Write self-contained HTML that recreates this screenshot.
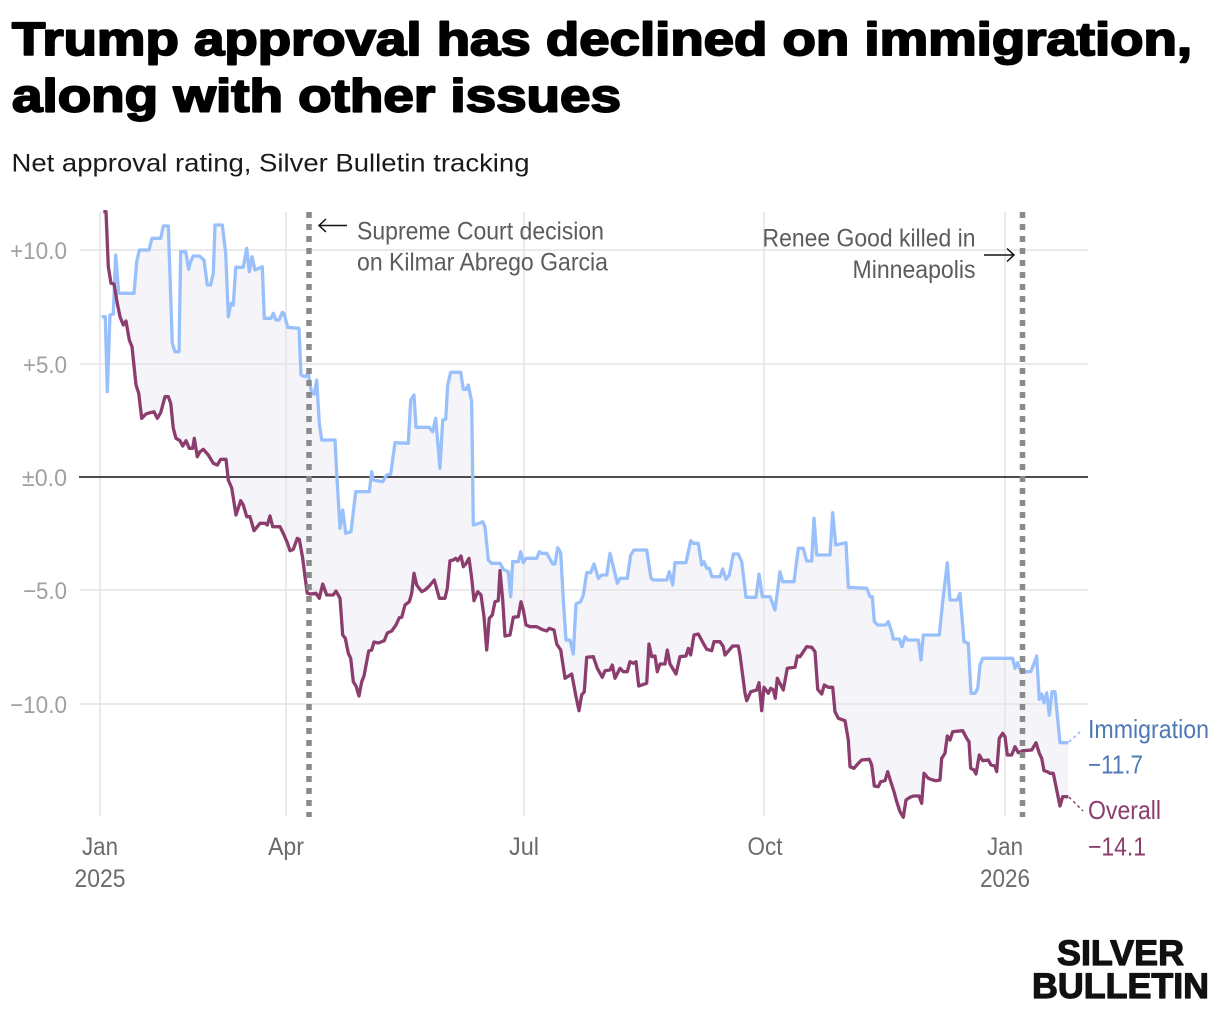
<!DOCTYPE html>
<html>
<head>
<meta charset="utf-8">
<style>
  html,body{margin:0;padding:0;background:#fff;}
  svg{display:block;}
  .nar{font-family:"Liberation Sans Narrow","Liberation Sans",sans-serif;}
  .reg{font-family:"Liberation Sans",sans-serif;}
</style>
</head>
<body>
<svg width="1220" height="1012" viewBox="0 0 1220 1012" xmlns="http://www.w3.org/2000/svg">
  <rect x="0" y="0" width="1220" height="1012" fill="#ffffff"/>

  <!-- Title -->
  <text class="reg" x="12" y="55" font-size="46" font-weight="bold" fill="#000" stroke="#000" stroke-width="1.9" stroke-linejoin="round" textLength="1180" lengthAdjust="spacingAndGlyphs">Trump approval has declined on immigration,</text>
  <text class="reg" x="12" y="111.5" font-size="46" font-weight="bold" fill="#000" stroke="#000" stroke-width="1.9" stroke-linejoin="round" textLength="609" lengthAdjust="spacingAndGlyphs">along with other issues</text>
  <text class="reg" x="11.5" y="171.5" font-size="25" fill="#1a1a1a" textLength="518" lengthAdjust="spacingAndGlyphs">Net approval rating, Silver Bulletin tracking</text>

  <!-- Fill between lines -->
  <polygon fill="#f4f4f9" points="101.7,830 101.7,316.7 105.3,316.7 107.3,391.7 110,315 113.3,314 115.7,255 118.7,293.3 134,293.3 136.7,261.7 139.3,250 149,250 152,238.3 160.7,238.3 163.3,226 168.3,226 172.3,343.3 175,351.7 179,351.7 180.7,251.7 185.7,251.7 188.7,269.3 190,263.3 193.3,256 199.3,256 204,260 207.3,285 210.7,285 213.3,273.3 215,225 222.3,225 225.7,253.3 228.3,316.7 231,303.3 233.3,305 235.7,267.3 243.3,267.3 246.7,248.3 249.3,271.7 252,256.7 255,270 262.3,266.7 264.3,318.3 271,318.3 273.3,313.3 276,320 279,320 282.3,312.3 284,313.3 287.7,327.3 299,328.3 301,375 305,376.7 308.3,373.3 311.7,394 314.3,394 316.7,380 319.3,423.3 321.7,440 335,440 336.7,473.3 340,528.3 342.7,510 345.7,533.3 351,531.7 355.7,491.7 369.3,491.7 371.7,471.7 373.3,480 382.7,481.7 386.7,475 390.7,474 395,442.7 408.3,443.3 410.7,400 414,395 416,427.3 429.3,427.3 432.7,431.7 435.7,418.3 440,468.3 442.7,420 445.7,419.3 447.7,385 450.7,372.3 460.7,372.3 463.3,389.3 466,389.3 468.3,385 471.7,401.7 473.3,525 479.3,523.3 482.7,521.7 485,526.7 488.3,560 491.7,563.3 500,563.3 503.3,569.3 508.3,571.7 510.7,596.7 512.7,561.7 518.3,561.7 520.7,551.7 523.3,562.7 526,558.3 536.7,558.3 539.3,551.7 541.7,553.3 546.7,553.3 552.7,564 555,564 557.7,547.7 560.7,552.7 563.3,600 566,640 570,640 573.3,654 576,604 580.7,601.7 583.3,595 586.7,572.7 590.7,572.7 594,564 598.3,578.3 601.7,575 606.7,575 610,553.3 613.3,566.7 617.3,583.3 620,578.3 627.3,578.3 630.7,555 634,550 646.7,550 651,578.3 653.3,580 666.7,580 669.3,571.7 672.7,585 675,562.7 686,562.7 690.7,540.7 693.3,543.3 698.3,543.3 701.7,565 704,561.7 706.7,568.3 709.3,568.3 712,576.7 720,576.7 722.7,569 726,579.3 729.3,575 733.3,554 738.3,554 741.7,561.7 746,597.3 756,597.3 759,574 762.3,596.7 770,596.7 775,610 780,571.7 782.7,581.7 794,581.7 798.3,548.3 803.3,548.3 806.7,561 811.7,561 814,518.3 816.7,555 830,555 832.7,512.7 835.7,545 846,542.7 848.3,587.3 866.7,588.3 870,596.7 872.3,596.7 874.3,621.7 877.7,625 885.7,625 888.3,621.7 891.7,631.7 893.3,639 899.3,639 902,646.7 905,636.7 907.7,640 918.3,640 921,660 923.3,635 939.3,635 942.7,601.7 947.3,562.7 950,600 957.3,600 960,593.3 964,641.7 968.3,643.3 971,693.3 975,693.3 977.7,688.3 980,665 982.7,658.3 1012.7,658.3 1015,668.3 1017.7,662.7 1021,671.7 1030.7,671.7 1034.3,662.7 1036.7,656 1039.3,699.3 1041.7,694 1044,702.7 1046.7,692.7 1049.3,715 1052,691.7 1055,691.7 1060,742.7 1068.3,742.7 1068.3,830"/>
  <polygon fill="#ffffff" points="100.5,830 100.5,211.7 106,211.7 108.3,266.7 111,283.3 114,284 117.3,303.3 120,316.7 123.3,325 126,321 129.3,340 132,346.7 136,385 138.7,393.3 141.7,418.3 146,414 150,412.7 154,411.7 157.3,418.3 160.7,412.7 165,396.7 168.3,396.7 170.7,403.3 173.3,428.3 176,438.3 180,440.7 182.7,446 186,440.7 189.3,448.3 192.7,448.3 194.3,438.3 197.3,456.7 200,451.7 203.3,449.3 208.3,455 213.3,463.3 217.3,465 220.7,459.3 226,459.3 228.3,480 231.7,488 236,515 240.7,500.7 243.3,505 246.7,516.7 250,516.7 254,530.7 260,523.3 265,523.3 267.3,525 270,516 272.7,526.7 280,526.7 284,535 287.3,542.7 290,550.7 293.3,549.3 297.3,538.3 299.3,539.3 302.7,558.3 305,576.7 307.3,593.3 310.7,594 316,593.3 319.3,598.3 322.7,584 326.7,595 333.3,595 336,591 340,598.3 342.7,635 345.3,638.3 348.3,653.3 350.7,658.3 353.3,681.7 356,686 359,696 361.7,681.7 364,676 368.7,651 371.7,650 374,642 378.3,643 384.3,640.7 387.3,633 391.7,631 396,625 399.3,617.7 401.7,617.3 405,605 409.3,601.7 411.7,593.3 414,573.3 416.7,585 421.7,591.7 425,590 429.3,586 434.3,580 439.3,598.3 445,598.3 447.3,588.3 450,560.7 453.3,560 455.7,558.3 457.7,560.7 461,556 463.3,566.7 465.7,564 469,558.3 471.7,578.3 474,600.7 477.7,591.7 481,595 484,616.7 486.7,650 489.3,618.3 492.3,615 495,601.7 498.3,600.7 500,570.7 502.7,600 505,636 510,635 513.3,617.3 518.3,616.7 521,601.7 523.3,610 526,625 530,626.7 536.7,626.7 541.7,629.3 546.7,631 549.3,628.3 554,630 556.7,644 560.7,650 565,678.3 571.7,674 576,696.7 579,710.7 581.7,695 584.3,691.7 586.7,657.3 593.3,656.7 597.3,668.3 602.3,677.3 605,670.7 610,670 612.3,665 615,678.3 620,668.3 623.3,671.7 627.3,671.7 630,661.7 633.3,663.3 636,661.7 638.7,686 646.7,683.3 649,644 651.7,656.7 655,656 657.3,671.7 660,664 665,664 667.3,650 670,664 676,674 680,656.7 686,656 688.3,648.3 690.7,655 694,635 698.3,634 703.3,643.3 706.7,649.3 711.7,650.7 714,641.7 720,641.7 723.3,646.7 725,655 729.3,650 732.7,646 738.3,646 740,655 745,693.3 746.7,700.7 750.7,691.7 756.7,690 759,682.7 761.7,710.7 764,687.3 768.3,693.3 770.7,688.3 773.3,690 775.3,698.3 777.3,678.3 783.3,690 787.3,668.3 795,667.3 797.3,656 800,656.7 803.3,651.7 806.7,646.7 811.7,647.3 815,651.7 817.7,689.3 821.7,694 824.3,685 828.3,687.3 832.7,687.3 835,711.7 838.3,718.3 845,720.7 848.3,740 850,766.7 854,768.3 858.3,763.3 861.7,760 869.3,759.3 871.7,765 874.3,786 878.3,786.7 880.7,781.7 885,780.7 887.7,771.7 890,779.3 894,791.7 896.7,801.7 900,811.7 903.3,817.3 906,800 910,797.3 913.3,796 919,796 921.7,803.3 924,773.3 928.3,778.3 932.7,780 936,780.7 940,780 941.7,758.3 945,753.3 947.3,736 950,740 952.7,731.7 962.7,730.7 966.7,738.3 969,741.7 970.7,768.3 974,770 976,774 979.3,755 982.7,760.7 988.3,760 991,765 995,766 996.7,771.7 999.3,738.3 1002.7,733.3 1005,736.7 1007.3,755 1011.7,755 1015,746.7 1018.3,752.7 1022.7,750.7 1031.7,750 1036,742.7 1039.3,753.3 1041.7,758.3 1044,770.7 1047.3,771.7 1050,773.3 1053.3,773.3 1056.7,790 1060,806 1062.7,796.7 1068.3,796.7 1069.5,830"/>
  <rect x="0" y="817" width="1220" height="20" fill="#ffffff"/>

  <!-- Gridlines -->
  <g stroke="#e4e4e4" stroke-width="1.6" fill="none">
    <line x1="80" y1="250" x2="1088" y2="250"/>
    <line x1="80" y1="364" x2="1088" y2="364"/>
    <line x1="80" y1="590" x2="1088" y2="590"/>
    <line x1="80" y1="704" x2="1088" y2="704"/>
    <line x1="100" y1="212" x2="100" y2="816"/>
    <line x1="286" y1="212" x2="286" y2="816"/>
    <line x1="524" y1="212" x2="524" y2="816"/>
    <line x1="764" y1="212" x2="764" y2="816"/>
    <line x1="1005" y1="212" x2="1005" y2="816"/>
  </g>
  <line x1="79" y1="477" x2="1088" y2="477" stroke="#111" stroke-width="1.6"/>

  <!-- Y labels -->
  <g class="nar" font-size="24" fill="#a0a0a0" text-anchor="end">
    <text x="67" y="259" textLength="57" lengthAdjust="spacingAndGlyphs">+10.0</text>
    <text x="67" y="373" textLength="44" lengthAdjust="spacingAndGlyphs">+5.0</text>
    <text x="67" y="486" textLength="45" lengthAdjust="spacingAndGlyphs">±0.0</text>
    <text x="67" y="599" textLength="44" lengthAdjust="spacingAndGlyphs">−5.0</text>
    <text x="67" y="713" textLength="57" lengthAdjust="spacingAndGlyphs">−10.0</text>
  </g>

  <!-- X labels -->
  <g class="nar" font-size="25" fill="#6b6b6b" text-anchor="middle">
    <text x="100" y="855" textLength="36" lengthAdjust="spacingAndGlyphs">Jan</text>
    <text x="100" y="887" textLength="51" lengthAdjust="spacingAndGlyphs">2025</text>
    <text x="286" y="855" textLength="36" lengthAdjust="spacingAndGlyphs">Apr</text>
    <text x="524" y="855" textLength="30" lengthAdjust="spacingAndGlyphs">Jul</text>
    <text x="765" y="855" textLength="35" lengthAdjust="spacingAndGlyphs">Oct</text>
    <text x="1005" y="855" textLength="36" lengthAdjust="spacingAndGlyphs">Jan</text>
    <text x="1005" y="887" textLength="50" lengthAdjust="spacingAndGlyphs">2026</text>
  </g>

  <!-- Series lines -->
  <polyline fill="none" stroke="#99c0fb" stroke-width="3.3" stroke-linejoin="round" points="101.7,316.7 105.3,316.7 107.3,391.7 110,315 113.3,314 115.7,255 118.7,293.3 134,293.3 136.7,261.7 139.3,250 149,250 152,238.3 160.7,238.3 163.3,226 168.3,226 172.3,343.3 175,351.7 179,351.7 180.7,251.7 185.7,251.7 188.7,269.3 190,263.3 193.3,256 199.3,256 204,260 207.3,285 210.7,285 213.3,273.3 215,225 222.3,225 225.7,253.3 228.3,316.7 231,303.3 233.3,305 235.7,267.3 243.3,267.3 246.7,248.3 249.3,271.7 252,256.7 255,270 262.3,266.7 264.3,318.3 271,318.3 273.3,313.3 276,320 279,320 282.3,312.3 284,313.3 287.7,327.3 299,328.3 301,375 305,376.7 308.3,373.3 311.7,394 314.3,394 316.7,380 319.3,423.3 321.7,440 335,440 336.7,473.3 340,528.3 342.7,510 345.7,533.3 351,531.7 355.7,491.7 369.3,491.7 371.7,471.7 373.3,480 382.7,481.7 386.7,475 390.7,474 395,442.7 408.3,443.3 410.7,400 414,395 416,427.3 429.3,427.3 432.7,431.7 435.7,418.3 440,468.3 442.7,420 445.7,419.3 447.7,385 450.7,372.3 460.7,372.3 463.3,389.3 466,389.3 468.3,385 471.7,401.7 473.3,525 479.3,523.3 482.7,521.7 485,526.7 488.3,560 491.7,563.3 500,563.3 503.3,569.3 508.3,571.7 510.7,596.7 512.7,561.7 518.3,561.7 520.7,551.7 523.3,562.7 526,558.3 536.7,558.3 539.3,551.7 541.7,553.3 546.7,553.3 552.7,564 555,564 557.7,547.7 560.7,552.7 563.3,600 566,640 570,640 573.3,654 576,604 580.7,601.7 583.3,595 586.7,572.7 590.7,572.7 594,564 598.3,578.3 601.7,575 606.7,575 610,553.3 613.3,566.7 617.3,583.3 620,578.3 627.3,578.3 630.7,555 634,550 646.7,550 651,578.3 653.3,580 666.7,580 669.3,571.7 672.7,585 675,562.7 686,562.7 690.7,540.7 693.3,543.3 698.3,543.3 701.7,565 704,561.7 706.7,568.3 709.3,568.3 712,576.7 720,576.7 722.7,569 726,579.3 729.3,575 733.3,554 738.3,554 741.7,561.7 746,597.3 756,597.3 759,574 762.3,596.7 770,596.7 775,610 780,571.7 782.7,581.7 794,581.7 798.3,548.3 803.3,548.3 806.7,561 811.7,561 814,518.3 816.7,555 830,555 832.7,512.7 835.7,545 846,542.7 848.3,587.3 866.7,588.3 870,596.7 872.3,596.7 874.3,621.7 877.7,625 885.7,625 888.3,621.7 891.7,631.7 893.3,639 899.3,639 902,646.7 905,636.7 907.7,640 918.3,640 921,660 923.3,635 939.3,635 942.7,601.7 947.3,562.7 950,600 957.3,600 960,593.3 964,641.7 968.3,643.3 971,693.3 975,693.3 977.7,688.3 980,665 982.7,658.3 1012.7,658.3 1015,668.3 1017.7,662.7 1021,671.7 1030.7,671.7 1034.3,662.7 1036.7,656 1039.3,699.3 1041.7,694 1044,702.7 1046.7,692.7 1049.3,715 1052,691.7 1055,691.7 1060,742.7 1068.3,742.7"/>
  <polyline fill="none" stroke="#8b3d6d" stroke-width="3.3" stroke-linejoin="round" points="103.3,211.7 106,211.7 108.3,266.7 111,283.3 114,284 117.3,303.3 120,316.7 123.3,325 126,321 129.3,340 132,346.7 136,385 138.7,393.3 141.7,418.3 146,414 150,412.7 154,411.7 157.3,418.3 160.7,412.7 165,396.7 168.3,396.7 170.7,403.3 173.3,428.3 176,438.3 180,440.7 182.7,446 186,440.7 189.3,448.3 192.7,448.3 194.3,438.3 197.3,456.7 200,451.7 203.3,449.3 208.3,455 213.3,463.3 217.3,465 220.7,459.3 226,459.3 228.3,480 231.7,488 236,515 240.7,500.7 243.3,505 246.7,516.7 250,516.7 254,530.7 260,523.3 265,523.3 267.3,525 270,516 272.7,526.7 280,526.7 284,535 287.3,542.7 290,550.7 293.3,549.3 297.3,538.3 299.3,539.3 302.7,558.3 305,576.7 307.3,593.3 310.7,594 316,593.3 319.3,598.3 322.7,584 326.7,595 333.3,595 336,591 340,598.3 342.7,635 345.3,638.3 348.3,653.3 350.7,658.3 353.3,681.7 356,686 359,696 361.7,681.7 364,676 368.7,651 371.7,650 374,642 378.3,643 384.3,640.7 387.3,633 391.7,631 396,625 399.3,617.7 401.7,617.3 405,605 409.3,601.7 411.7,593.3 414,573.3 416.7,585 421.7,591.7 425,590 429.3,586 434.3,580 439.3,598.3 445,598.3 447.3,588.3 450,560.7 453.3,560 455.7,558.3 457.7,560.7 461,556 463.3,566.7 465.7,564 469,558.3 471.7,578.3 474,600.7 477.7,591.7 481,595 484,616.7 486.7,650 489.3,618.3 492.3,615 495,601.7 498.3,600.7 500,570.7 502.7,600 505,636 510,635 513.3,617.3 518.3,616.7 521,601.7 523.3,610 526,625 530,626.7 536.7,626.7 541.7,629.3 546.7,631 549.3,628.3 554,630 556.7,644 560.7,650 565,678.3 571.7,674 576,696.7 579,710.7 581.7,695 584.3,691.7 586.7,657.3 593.3,656.7 597.3,668.3 602.3,677.3 605,670.7 610,670 612.3,665 615,678.3 620,668.3 623.3,671.7 627.3,671.7 630,661.7 633.3,663.3 636,661.7 638.7,686 646.7,683.3 649,644 651.7,656.7 655,656 657.3,671.7 660,664 665,664 667.3,650 670,664 676,674 680,656.7 686,656 688.3,648.3 690.7,655 694,635 698.3,634 703.3,643.3 706.7,649.3 711.7,650.7 714,641.7 720,641.7 723.3,646.7 725,655 729.3,650 732.7,646 738.3,646 740,655 745,693.3 746.7,700.7 750.7,691.7 756.7,690 759,682.7 761.7,710.7 764,687.3 768.3,693.3 770.7,688.3 773.3,690 775.3,698.3 777.3,678.3 783.3,690 787.3,668.3 795,667.3 797.3,656 800,656.7 803.3,651.7 806.7,646.7 811.7,647.3 815,651.7 817.7,689.3 821.7,694 824.3,685 828.3,687.3 832.7,687.3 835,711.7 838.3,718.3 845,720.7 848.3,740 850,766.7 854,768.3 858.3,763.3 861.7,760 869.3,759.3 871.7,765 874.3,786 878.3,786.7 880.7,781.7 885,780.7 887.7,771.7 890,779.3 894,791.7 896.7,801.7 900,811.7 903.3,817.3 906,800 910,797.3 913.3,796 919,796 921.7,803.3 924,773.3 928.3,778.3 932.7,780 936,780.7 940,780 941.7,758.3 945,753.3 947.3,736 950,740 952.7,731.7 962.7,730.7 966.7,738.3 969,741.7 970.7,768.3 974,770 976,774 979.3,755 982.7,760.7 988.3,760 991,765 995,766 996.7,771.7 999.3,738.3 1002.7,733.3 1005,736.7 1007.3,755 1011.7,755 1015,746.7 1018.3,752.7 1022.7,750.7 1031.7,750 1036,742.7 1039.3,753.3 1041.7,758.3 1044,770.7 1047.3,771.7 1050,773.3 1053.3,773.3 1056.7,790 1060,806 1062.7,796.7 1068.3,796.7"/>

  <!-- Connector dashes -->
  <line x1="1069" y1="742" x2="1082" y2="730" stroke="#99c0fb" stroke-width="1.8" stroke-dasharray="3 3"/>
  <line x1="1069" y1="797" x2="1083" y2="811" stroke="#8b3d6d" stroke-width="1.5" stroke-dasharray="3 3"/>

  <!-- Dotted event lines -->
  <line x1="309" y1="212" x2="309" y2="817" stroke="#8a8a8a" stroke-width="5.5" stroke-dasharray="6 6"/>
  <line x1="1022.5" y1="212" x2="1022.5" y2="817" stroke="#8a8a8a" stroke-width="5.5" stroke-dasharray="6 6"/>

  <!-- Annotations -->
  <g stroke="#111" stroke-width="1.5" fill="none">
    <line x1="319" y1="225.5" x2="347" y2="225.5"/>
    <polyline points="326,219 319,225.5 326,232"/>
    <line x1="984" y1="255" x2="1014" y2="255"/>
    <polyline points="1007,248.5 1014,255 1007,261.5"/>
  </g>
  <g class="nar" font-size="25" fill="#5c5c5c">
    <text x="357" y="239.5" textLength="247" lengthAdjust="spacingAndGlyphs">Supreme Court decision</text>
    <text x="357" y="270.5" textLength="251" lengthAdjust="spacingAndGlyphs">on Kilmar Abrego Garcia</text>
    <text x="975.5" y="246.5" text-anchor="end" textLength="213" lengthAdjust="spacingAndGlyphs">Renee Good killed in</text>
    <text x="975.5" y="278" text-anchor="end" textLength="123" lengthAdjust="spacingAndGlyphs">Minneapolis</text>
  </g>

  <!-- Series labels -->
  <g class="nar" font-size="26">
    <text x="1088" y="738" fill="#4f78b6" textLength="121" lengthAdjust="spacingAndGlyphs">Immigration</text>
    <text x="1088" y="773.5" fill="#4f78b6" textLength="55" lengthAdjust="spacingAndGlyphs">−11.7</text>
    <text x="1088" y="819" fill="#8b3d6d" textLength="73" lengthAdjust="spacingAndGlyphs">Overall</text>
    <text x="1088" y="855.5" fill="#8b3d6d" textLength="58" lengthAdjust="spacingAndGlyphs">−14.1</text>
  </g>

  <!-- Logo -->
  <g class="reg" font-weight="bold" fill="#111" stroke="#111" stroke-width="1.2" stroke-linejoin="round">
    <text x="1057" y="965" font-size="35" textLength="127" lengthAdjust="spacingAndGlyphs">SILVER</text>
    <text x="1032" y="998" font-size="35" textLength="177" lengthAdjust="spacingAndGlyphs">BULLETIN</text>
  </g>
</svg>
</body>
</html>
